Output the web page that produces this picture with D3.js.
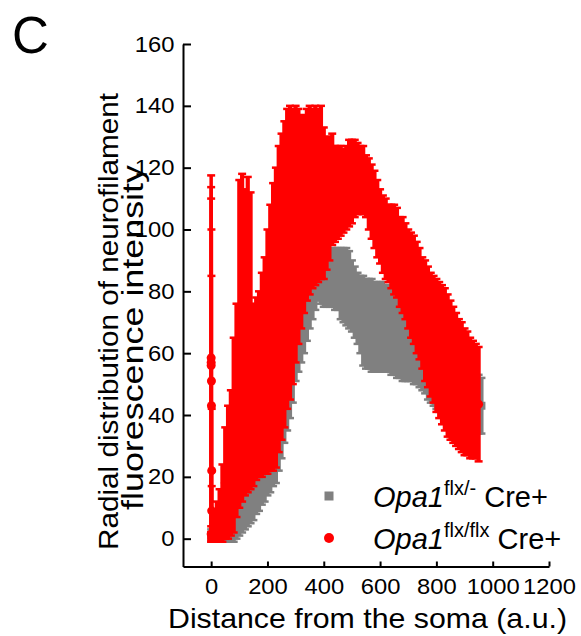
<!DOCTYPE html>
<html>
<head>
<meta charset="utf-8">
<script src="https://cdn.jsdelivr.net/npm/d3@7"></script>
<style>
  body { margin: 0; background: #fff; }
  svg text { font-family: Arial, "Liberation Sans", sans-serif; fill: #000; }
</style>
</head>
<body>
<div id="chart"></div>
<script>
// distance from the soma (a.u.), one sample every 10
var distance = [0,10,20,30,40,50,60,70,80,90,
  100,110,120,130,140,150,160,170,180,190,
  200,210,220,230,240,250,260,270,280,290,
  300,310,320,330,340,350,360,370,380,390,
  400,410,420,430,440,450,460,470,480,490,
  500,510,520,530,540,550,560,570,580,590,
  600,610,620,630,640,650,660,670,680,690,
  700,710,720,730,740,750,760,770,780,790,
  800,810,820,830,840,850,860,870,880,890,
  900,910,920,930,940,950,960];

// Opa1 flx/- Cre+ (grey squares)
var grayMean = [1,2,2.5,3,3.5,4,4.5,5.5,6.5,8,
  9.5,11,12.5,14,15.5,17,19,20.5,23,25,
  27.5,29.5,32,34,37.5,41,45,48.5,52,56,
  61,64,67,70,73.5,76.5,79,81,83,83,
  83,83.5,84,84.5,84,84,82.5,82,81.5,80.5,
  78.5,76.5,74.5,72.5,70.5,69.5,69.5,69,68.5,68.5,
  68.5,68.5,68,68,67.5,67,66,65,63.5,62.5,
  61.5,60.5,59,58,56.5,55,54,52.5,51.5,50.5,
  50,49,48.5,47.5,47.5,47,46.5,46,46,45.5,
  45.5,44.5,44.5,44.5,43.5,43.5,43];
var grayErr = [2,3,3.5,4,4.5,5,5.5,6.5,7.5,8,
  8.5,9,9.5,10,10.5,11,11,11.5,12,13,
  13.5,14.5,15,16,15.5,15,14,13.5,13,12,
  10,10,10,10,9.5,8.5,8,7,6,7,
  8,8.5,9,9.5,10,10,11.5,12,12.5,12.5,
  11.5,11.5,11.5,12.5,14.5,14.5,14.5,15,14.5,14.5,
  14.5,14.5,14,14,14.5,14,14,13,12.5,11.5,
  10.5,9.5,9,8,7.5,7,7,7.5,7.5,7.5,
  8,8,8.5,8.5,8.5,9,8.5,9,9,9.5,
  9.5,9.5,9.5,9.5,9.5,9.5,9];

// Opa1 flx/flx Cre+ (red circles), same distances up to 950
var redMean = [1.5,4,5.5,7.5,11.5,18,21.5,24.5,33.5,41.5,
  63,65,63.5,66,64,46.5,48.5,50,53,56,
  60.5,65,68.5,71.5,77.5,81.5,85.5,90.5,92.5,94.5,
  98.5,101,102.5,105,108,109.5,110,111,111,112,
  108.5,108.5,110,113,111.5,112,112.5,112.5,113.5,115,
  115.5,116.5,116.5,116,116,114,111.5,109,106.5,103.5,
  101,98.5,97,95.5,94.5,93.5,92.5,89.5,88.5,86.5,
  84,82,80.5,78,76,73,70.5,68.5,66,64.5,
  62.5,61,59.5,58,56,54.5,53,51.5,50,49,
  47.5,47,45.5,45,44.5,43.5];
var redErr = [2.5,5,6.5,8.5,12.5,18,21.5,23.5,31.5,34.5,
  53,53,49.5,51,48,29.5,29.5,30,33,35,
  39.5,43,46.5,48.5,49.5,49.5,49.5,48.5,47.5,44.5,
  41.5,38,34.5,32,31,30.5,29,29,28,28,
  24.5,21.5,20,18,15.5,15,14.5,13.5,13.5,14,
  13.5,12.5,11.5,11,11,10,11.5,12,12.5,12.5,
  12,12.5,13,12.5,13.5,14.5,14.5,14.5,15.5,15.5,
  16,17,17.5,18,18,18,19.5,19.5,20,20.5,
  21.5,22,22.5,23,23,22.5,22,21.5,21,21,
  20.5,20,19.5,19,18.5,18.5];

// red points right at the soma (the tall thin bar at 0)
var somaX = [0,0,0,1,1,2,2];
var somaMean = [58.5,57,56,51,43,22,9];
var somaErr = [59,56.7,54,49,42,20,8];

var xTicks = [0,200,400,600,800,1000,1200];
var yTicks = [0,20,40,60,80,100,120,140,160];

var legendItems = [
  {name: "Opa1", sup: "flx/-", rest: " Cre+", color: "#808080", shape: "square"},
  {name: "Opa1", sup: "flx/flx", rest: " Cre+", color: "#ff0000", shape: "circle"}
];

var width = 581, height = 636;

var svg = d3.select("#chart")
  .append("svg")
    .attr("width", width)
    .attr("height", height);

var x = d3.scaleLinear().domain([-100, 1200]).range([183, 549]);
var y = d3.scaleLinear().domain([-9, 160]).range([566.5, 44]);

// draws error bars + markers for one series
function drawSeries(xs, means, errs, color, shape, barWidth) {
  var g = svg.append("g");
  var pts = xs.map(function(d, i) { return {x: d, m: means[i], e: errs[i]}; })
    .filter(function(d) { return d.m !== undefined; });

  g.selectAll(".bar")
    .data(pts)
    .enter().append("line")
      .attr("x1", function(d) { return x(d.x); })
      .attr("x2", function(d) { return x(d.x); })
      .attr("y1", function(d) { return y(d.m - d.e); })
      .attr("y2", function(d) { return y(d.m + d.e); })
      .style("stroke", color)
      .style("stroke-width", barWidth);

  // caps top and bottom
  [1, -1].forEach(function(s) {
    g.selectAll(".cap" + s)
      .data(pts)
      .enter().append("line")
        .attr("x1", function(d) { return x(d.x) - 4; })
        .attr("x2", function(d) { return x(d.x) + 4; })
        .attr("y1", function(d) { return y(d.m + s * d.e); })
        .attr("y2", function(d) { return y(d.m + s * d.e); })
        .style("stroke", color)
        .style("stroke-width", 2.5);
  });

  if (shape == "square") {
    g.selectAll(".pt")
      .data(pts)
      .enter().append("rect")
        .attr("x", function(d) { return x(d.x) - 4; })
        .attr("y", function(d) { return y(d.m) - 4; })
        .attr("width", 8)
        .attr("height", 8)
        .style("fill", color);
  } else {
    g.selectAll(".pt")
      .data(pts)
      .enter().append("circle")
        .attr("cx", function(d) { return x(d.x); })
        .attr("cy", function(d) { return y(d.m); })
        .attr("r", 4.5)
        .style("fill", color);
  }
}

drawSeries(distance, grayMean, grayErr, "#808080", "square", 4.2);
drawSeries(distance, redMean, redErr, "#ff0000", "circle", 4.2);
drawSeries(somaX, somaMean, somaErr, "#ff0000", "circle", 3.5);

// axes, ticks pointing inward
var yAxis = svg.append("g")
  .attr("transform", "translate(183,0)")
  .call(d3.axisLeft(y).tickValues(yTicks).tickSizeInner(-8).tickSizeOuter(0).tickPadding(8));
var xAxis = svg.append("g")
  .attr("transform", "translate(0,566.5)")
  .call(d3.axisBottom(x).tickValues(xTicks).tickFormat(d3.format("d"))
    .tickSizeInner(-5).tickSizeOuter(0).tickPadding(12));

[yAxis, xAxis].forEach(function(a) {
  a.select(".domain").style("stroke", "#000").style("stroke-width", 2);
  a.selectAll(".tick line").style("stroke", "#000").style("stroke-width", 2);
  a.selectAll(".tick text")
    .style("font-size", "22px")
    .style("font-family", "Arial, 'Liberation Sans', sans-serif")
    .attr("transform", "scale(1.08,1)");
});

// titles
svg.append("text")
  .attr("x", 367.5)
  .attr("y", 628)
  .attr("text-anchor", "middle")
  .attr("textLength", 399)
  .attr("lengthAdjust", "spacingAndGlyphs")
  .style("font-size", "28px")
  .text("Distance from the soma (a.u.)");

svg.append("text")
  .attr("transform", "translate(118,321.5) rotate(-90)")
  .attr("text-anchor", "middle")
  .attr("textLength", 457)
  .attr("lengthAdjust", "spacingAndGlyphs")
  .style("font-size", "27px")
  .text("Radial distribution of neurofilament");

svg.append("text")
  .attr("transform", "translate(143,337.5) rotate(-90)")
  .attr("text-anchor", "middle")
  .attr("textLength", 345)
  .attr("lengthAdjust", "spacingAndGlyphs")
  .style("font-size", "29px")
  .text("fluorescence intensity");

svg.append("text")
  .attr("x", 12)
  .attr("y", 53)
  .style("font-size", "51px")
  .text("C");

// legend
var legend = svg.selectAll(".legend")
  .data(legendItems)
  .enter().append("g")
    .attr("transform", function(d, i) { return "translate(329," + (496 + i * 42) + ")"; });

legend.each(function(d) {
  var g = d3.select(this);
  if (d.shape == "square") {
    g.append("rect").attr("x", -4.5).attr("y", -4.5).attr("width", 9).attr("height", 9).style("fill", d.color);
  } else {
    g.append("circle").attr("r", 5).style("fill", d.color);
  }
  var t = g.append("text")
    .attr("x", 44)
    .attr("y", 10.5)
    .style("font-size", "29px");
  t.append("tspan").style("font-style", "italic").text(d.name);
  t.append("tspan").attr("dy", -12).style("font-size", "20px").text(d.sup);
  t.append("tspan").attr("dy", 12).text(d.rest);
});
</script>
</body>
</html>
